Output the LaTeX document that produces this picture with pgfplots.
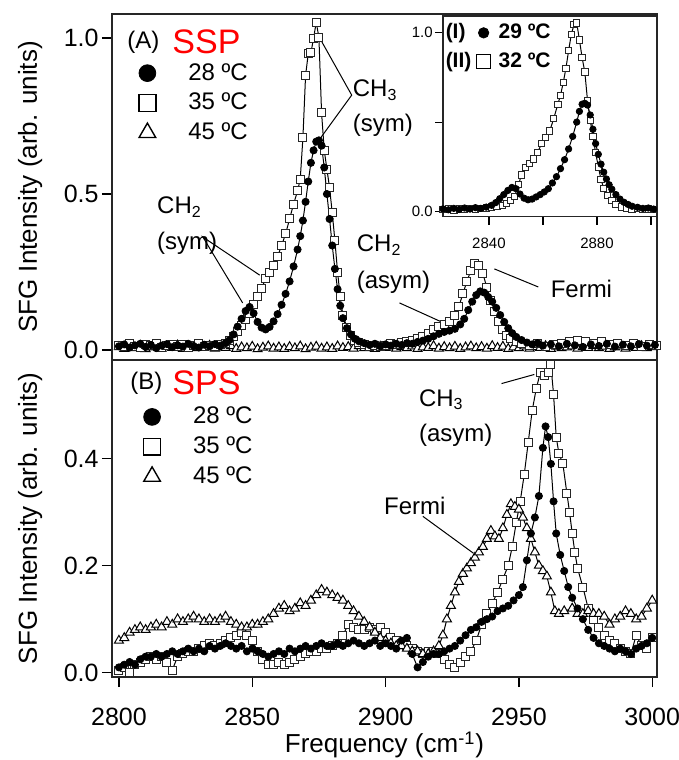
\documentclass[border=0pt]{standalone}
\usepackage{fontspec}
\setmainfont{Liberation Sans}
\usepackage{pgfplots}
\usepackage{pgfplotstable}
\pgfplotsset{compat=1.18}

% ---------- panel A (SSP) ----------
\pgfplotstableread[row sep=\\]{x y\\
2800 0.010\\ 2802 0.004\\ 2804 0.012\\ 2806 0.006\\ 2808 0.014\\ 2810 0.003\\ 2812 0.009\\ 2814 0.013\\ 2816 0.005\\ 2818 0.011\\
2820 0.007\\ 2822 0.015\\ 2824 0.004\\ 2826 0.010\\ 2828 0.006\\ 2830 0.012\\ 2832 0.008\\ 2834 0.014\\ 2836 0.005\\ 2838 0.010\\
2840 0.007\\ 2842 0.013\\ 2844 0.004\\ 2846 0.009\\ 2848 0.006\\ 2850 0.011\\ 2852 0.003\\ 2854 0.008\\ 2856 0.012\\ 2858 0.005\\
2860 0.009\\ 2862 0.004\\ 2864 0.010\\ 2866 0.006\\ 2868 0.012\\ 2870 0.003\\ 2872 0.008\\ 2874 0.011\\ 2876 0.005\\ 2878 0.009\\
2880 0.004\\ 2882 0.012\\ 2884 0.007\\ 2886 0.010\\ 2888 0.005\\ 2890 0.013\\ 2892 0.006\\ 2894 0.009\\ 2896 0.004\\ 2898 0.011\\
2900 0.007\\ 2902 0.014\\ 2904 0.005\\ 2906 0.010\\ 2908 0.006\\ 2910 0.012\\ 2912 0.004\\ 2914 0.009\\ 2916 0.007\\ 2918 0.013\\
2920 0.005\\ 2922 0.010\\ 2924 0.006\\ 2926 0.011\\ 2928 0.004\\ 2930 0.009\\ 2932 0.012\\ 2934 0.006\\ 2936 0.010\\ 2938 0.005\\
2940 0.013\\ 2942 0.007\\ 2944 0.011\\ 2946 0.004\\ 2948 0.009\\ 2950 0.006\\ 2952 0.012\\ 2954 0.005\\ 2956 0.010\\ 2958 0.007\\
2960 0.013\\ 2962 0.004\\ 2964 0.011\\ 2966 0.006\\ 2968 0.009\\ 2970 0.012\\ 2972 0.005\\ 2974 0.010\\ 2976 0.007\\ 2978 0.014\\
2980 0.006\\ 2982 0.011\\ 2984 0.004\\ 2986 0.009\\ 2988 0.012\\ 2990 0.005\\ 2992 0.010\\ 2994 0.007\\ 2996 0.013\\ 2998 0.006\\ 3000 0.010\\
}\aT

\pgfplotstableread[row sep=\\]{x y\\
2800 0.012\\ 2802 0.018\\ 2804 0.008\\ 2806 0.015\\ 2808 0.020\\ 2810 0.010\\ 2812 0.016\\ 2814 0.006\\ 2816 0.014\\ 2818 0.019\\
2820 0.009\\ 2822 0.015\\ 2824 0.011\\ 2826 0.020\\ 2828 0.013\\ 2830 0.008\\ 2832 0.017\\ 2834 0.012\\ 2836 0.019\\ 2838 0.014\\
2840 0.022\\ 2841.5 0.032\\ 2843 0.050\\ 2844.5 0.075\\ 2846 0.100\\ 2847.5 0.125\\ 2849 0.138\\ 2850.5 0.118\\ 2852 0.090\\
2853.5 0.072\\ 2855 0.066\\ 2856.5 0.074\\ 2858 0.092\\ 2859.5 0.115\\ 2861 0.145\\ 2862.5 0.180\\ 2864 0.220\\ 2865.5 0.268\\
2867 0.322\\ 2868 0.365\\ 2869 0.415\\ 2870 0.475\\ 2871 0.540\\ 2872 0.600\\ 2873 0.640\\ 2874 0.668\\ 2875 0.672\\ 2876 0.655\\
2877 0.585\\ 2878 0.500\\ 2879 0.420\\ 2880 0.335\\ 2881 0.260\\ 2882 0.195\\ 2883 0.142\\ 2884 0.102\\ 2885.5 0.070\\ 2887 0.050\\
2888.5 0.036\\ 2890 0.028\\ 2892 0.022\\ 2894 0.016\\ 2896 0.020\\ 2898 0.012\\ 2900 0.018\\ 2902 0.014\\ 2904 0.020\\ 2906 0.016\\
2908 0.022\\ 2910 0.020\\ 2912 0.026\\ 2914 0.030\\ 2916 0.036\\ 2918 0.044\\ 2920 0.052\\ 2922 0.058\\ 2924 0.062\\ 2926 0.068\\
2928 0.082\\ 2929.5 0.100\\ 2931 0.128\\ 2932.5 0.155\\ 2934 0.176\\ 2935.5 0.188\\ 2937 0.184\\ 2938.5 0.170\\ 2940 0.155\\
2941.5 0.135\\ 2943 0.112\\ 2944.5 0.090\\ 2946 0.070\\ 2947.5 0.054\\ 2949 0.042\\ 2951 0.032\\ 2953 0.024\\ 2955 0.018\\
2957 0.022\\ 2959 0.014\\ 2962 0.018\\ 2965 0.012\\ 2968 0.020\\ 2971 0.015\\ 2974 0.010\\ 2977 0.018\\ 2980 0.013\\ 2983 0.020\\
2986 0.011\\ 2989 0.017\\ 2992 0.012\\ 2995 0.019\\ 2998 0.014\\ 3001 0.016\\
}\aC

\pgfplotstableread[row sep=\\]{x y\\
2800 0.016\\ 2802 0.010\\ 2804 0.020\\ 2806 0.012\\ 2808 0.008\\ 2810 0.018\\ 2812 0.013\\ 2814 0.021\\ 2816 0.009\\ 2818 0.015\\
2820 0.019\\ 2822 0.011\\ 2824 0.017\\ 2826 0.008\\ 2828 0.014\\ 2830 0.020\\ 2832 0.012\\ 2834 0.016\\ 2836 0.010\\ 2838 0.018\\
2840 0.022\\ 2841.5 0.030\\ 2843 0.042\\ 2844.5 0.058\\ 2846 0.080\\ 2847.5 0.098\\ 2849 0.118\\ 2850.5 0.145\\ 2852 0.172\\
2853.5 0.198\\ 2855 0.228\\ 2856.5 0.250\\ 2858 0.272\\ 2859.5 0.300\\ 2861 0.335\\ 2862.5 0.372\\ 2864 0.420\\ 2865.5 0.468\\
2867 0.510\\ 2868 0.548\\ 2869 0.680\\ 2870 0.880\\ 2871 0.950\\ 2872 0.952\\ 2873 1.000\\ 2874 1.050\\ 2875 1.002\\ 2876 0.760\\
2877 0.640\\ 2878 0.580\\ 2879 0.520\\ 2880 0.440\\ 2881 0.350\\ 2882 0.250\\ 2883 0.170\\ 2884 0.112\\ 2885.5 0.072\\ 2887 0.046\\
2888.5 0.032\\ 2890 0.024\\ 2892 0.018\\ 2894 0.012\\ 2896 0.016\\ 2898 0.010\\ 2900 0.015\\ 2902 0.020\\ 2904 0.018\\ 2906 0.024\\
2908 0.026\\ 2910 0.030\\ 2912 0.036\\ 2914 0.044\\ 2916 0.054\\ 2918 0.066\\ 2920 0.076\\ 2922 0.082\\ 2924 0.090\\ 2926 0.110\\
2927.5 0.140\\ 2929 0.180\\ 2930.5 0.220\\ 2932 0.255\\ 2933.5 0.278\\ 2935 0.272\\ 2936.5 0.245\\ 2938 0.200\\ 2939.5 0.160\\
2941 0.122\\ 2942.5 0.092\\ 2944 0.066\\ 2945.5 0.048\\ 2947 0.036\\ 2949 0.026\\ 2951 0.020\\ 2954 0.014\\ 2957 0.020\\ 2960 0.012\\
2963 0.018\\ 2966 0.022\\ 2969 0.026\\ 2972 0.030\\ 2975 0.028\\ 2978 0.022\\ 2981 0.026\\ 2984 0.018\\ 2987 0.022\\ 2990 0.014\\
2993 0.020\\ 2996 0.012\\ 2999 0.018\\ 3001.5 0.014\\
}\aS

% ---------- panel B (SPS) ----------
\pgfplotstableread[row sep=\\]{x y\\
2800 0.010\\ 2802 0.015\\ 2804 0.020\\ 2806 0.015\\ 2808 0.025\\ 2810 0.030\\ 2812 0.030\\ 2814 0.035\\ 2816 0.030\\ 2818 0.035\\
2820 0.040\\ 2822 0.035\\ 2824 0.040\\ 2826 0.045\\ 2828 0.040\\ 2830 0.045\\ 2832 0.040\\ 2834 0.050\\ 2836 0.045\\ 2838 0.050\\
2840 0.055\\ 2842 0.050\\ 2844 0.045\\ 2846 0.050\\ 2848 0.040\\ 2850 0.045\\ 2852 0.040\\ 2854 0.035\\ 2856 0.030\\ 2858 0.035\\
2860 0.040\\ 2862 0.035\\ 2864 0.045\\ 2866 0.040\\ 2868 0.045\\ 2870 0.050\\ 2872 0.045\\ 2874 0.050\\ 2876 0.055\\ 2878 0.050\\
2880 0.050\\ 2882 0.055\\ 2884 0.050\\ 2886 0.055\\ 2888 0.060\\ 2890 0.055\\ 2892 0.050\\ 2894 0.055\\ 2896 0.060\\ 2898 0.050\\
2900 0.055\\ 2902 0.050\\ 2904 0.045\\ 2906 0.060\\ 2908 0.065\\ 2910 0.035\\ 2912 0.010\\ 2914 0.020\\ 2916 0.030\\ 2918 0.035\\
2920 0.035\\ 2922 0.040\\ 2924 0.045\\ 2926 0.050\\ 2928 0.060\\ 2930 0.070\\ 2932 0.080\\ 2934 0.085\\ 2936 0.095\\ 2938 0.100\\
2940 0.105\\ 2942 0.115\\ 2944 0.120\\ 2946 0.125\\ 2948 0.135\\ 2950 0.145\\ 2951.5 0.160\\ 2953 0.210\\ 2954.5 0.260\\
2956 0.290\\ 2957.5 0.330\\ 2959 0.420\\ 2960 0.460\\ 2961 0.440\\ 2962 0.390\\ 2963 0.320\\ 2964 0.260\\ 2965.5 0.220\\
2967 0.190\\ 2968.5 0.160\\ 2970 0.140\\ 2972 0.120\\ 2974 0.100\\ 2976 0.080\\ 2978 0.065\\ 2980 0.055\\ 2982 0.050\\
2984 0.045\\ 2986 0.040\\ 2988 0.045\\ 2990 0.040\\ 2992 0.035\\ 2994 0.045\\ 2996 0.050\\ 2998 0.055\\ 3000 0.065\\
}\bC

\pgfplotstableread[row sep=\\]{x y\\
2800 0.005\\ 2802 0.010\\ 2804 0.000\\ 2806 0.015\\ 2808 0.020\\ 2810 0.025\\ 2812 0.030\\ 2814 0.025\\ 2816 0.030\\ 2818 0.020\\
2820 0.005\\ 2822 0.030\\ 2824 0.035\\ 2826 0.040\\ 2828 0.040\\ 2830 0.045\\ 2832 0.050\\ 2834 0.055\\ 2836 0.050\\ 2838 0.055\\
2840 0.060\\ 2842 0.065\\ 2844 0.070\\ 2846 0.075\\ 2848 0.070\\ 2850 0.060\\ 2852 0.040\\ 2854 0.025\\ 2856 0.015\\ 2858 0.015\\
2860 0.020\\ 2862 0.015\\ 2864 0.020\\ 2866 0.025\\ 2868 0.030\\ 2870 0.035\\ 2872 0.040\\ 2874 0.040\\ 2876 0.045\\ 2878 0.045\\
2880 0.050\\ 2882 0.055\\ 2884 0.070\\ 2886 0.090\\ 2888 0.085\\ 2890 0.080\\ 2892 0.080\\ 2894 0.085\\ 2896 0.080\\ 2898 0.085\\
2900 0.075\\ 2902 0.065\\ 2904 0.060\\ 2906 0.055\\ 2908 0.050\\ 2910 0.045\\ 2912 0.040\\ 2914 0.035\\ 2916 0.040\\ 2918 0.040\\
2920 0.035\\ 2922 0.025\\ 2924 0.015\\ 2926 0.010\\ 2928 0.020\\ 2930 0.030\\ 2932 0.040\\ 2934 0.060\\ 2936 0.090\\ 2938 0.110\\
2940 0.130\\ 2942 0.150\\ 2944 0.175\\ 2946 0.200\\ 2947.5 0.235\\ 2949 0.280\\ 2950.5 0.320\\ 2952 0.370\\ 2953.5 0.430\\
2955 0.490\\ 2956.5 0.530\\ 2958 0.560\\ 2959.5 0.555\\ 2961 0.560\\ 2962 0.575\\ 2963 0.520\\ 2964 0.440\\ 2965 0.410\\
2966.5 0.390\\ 2968 0.335\\ 2969 0.300\\ 2970 0.260\\ 2971 0.225\\ 2972 0.195\\ 2974 0.160\\ 2976 0.120\\ 2978 0.100\\
2980 0.085\\ 2982 0.070\\ 2984 0.060\\ 2986 0.055\\ 2988 0.045\\ 2990 0.040\\ 2992 0.035\\ 2994 0.070\\ 2996 0.050\\ 2998 0.045\\ 3000 0.065\\
}\bS

\pgfplotstableread[row sep=\\]{x y\\
2800 0.060\\ 2802 0.065\\ 2804 0.075\\ 2806 0.080\\ 2808 0.085\\ 2810 0.080\\ 2812 0.085\\ 2814 0.090\\ 2816 0.085\\ 2818 0.095\\
2820 0.090\\ 2822 0.100\\ 2824 0.095\\ 2826 0.100\\ 2828 0.105\\ 2830 0.100\\ 2832 0.095\\ 2834 0.100\\ 2836 0.095\\ 2838 0.100\\
2840 0.105\\ 2842 0.095\\ 2844 0.090\\ 2846 0.085\\ 2848 0.085\\ 2850 0.090\\ 2852 0.090\\ 2854 0.095\\ 2856 0.100\\ 2858 0.110\\
2860 0.120\\ 2862 0.125\\ 2864 0.115\\ 2866 0.120\\ 2868 0.130\\ 2870 0.125\\ 2872 0.135\\ 2874 0.145\\ 2876 0.155\\ 2878 0.150\\
2880 0.145\\ 2882 0.140\\ 2884 0.135\\ 2886 0.125\\ 2888 0.115\\ 2890 0.105\\ 2892 0.095\\ 2894 0.085\\ 2896 0.075\\ 2898 0.065\\
2900 0.060\\ 2902 0.055\\ 2904 0.050\\ 2906 0.050\\ 2908 0.045\\ 2910 0.040\\ 2912 0.040\\ 2914 0.035\\ 2916 0.035\\ 2918 0.040\\
2920 0.050\\ 2921.5 0.070\\ 2923 0.100\\ 2924.5 0.125\\ 2926 0.150\\ 2927.5 0.170\\ 2929 0.185\\ 2930.5 0.195\\ 2932 0.205\\
2933.5 0.215\\ 2935 0.225\\ 2936.5 0.235\\ 2938 0.250\\ 2939.5 0.265\\ 2941 0.255\\ 2942.5 0.250\\ 2944 0.270\\ 2945.5 0.295\\
2947 0.315\\ 2948.5 0.310\\ 2950 0.305\\ 2951.5 0.290\\ 2953 0.270\\ 2954.5 0.250\\ 2956 0.225\\ 2957.5 0.200\\ 2959 0.190\\
2960.5 0.180\\ 2962 0.150\\ 2963.5 0.115\\ 2965 0.110\\ 2967 0.115\\ 2970 0.120\\ 2972 0.110\\ 2974 0.110\\ 2976 0.115\\
2978 0.110\\ 2980 0.110\\ 2982 0.105\\ 2984 0.090\\ 2986 0.100\\ 2988 0.105\\ 2990 0.115\\ 2992 0.110\\ 2994 0.100\\ 2996 0.105\\
2998 0.120\\ 3000 0.135\\
}\bT

% ---------- inset ----------
\pgfplotstableread[row sep=\\]{x y\\
2823 0.015\\ 2825 0.010\\ 2827 0.018\\ 2829 0.012\\ 2831 0.020\\ 2833 0.014\\ 2835 0.022\\ 2837 0.018\\ 2839 0.025\\ 2841 0.035\\
2842.5 0.050\\ 2844 0.072\\ 2845.5 0.095\\ 2847 0.118\\ 2848.5 0.135\\ 2850 0.128\\ 2851.5 0.098\\ 2853 0.075\\ 2854.5 0.066\\
2856 0.070\\ 2857.5 0.082\\ 2859 0.095\\ 2860.5 0.110\\ 2862 0.128\\ 2863.5 0.160\\ 2865 0.195\\ 2866.5 0.240\\ 2868 0.290\\
2869.5 0.350\\ 2871 0.420\\ 2872.5 0.500\\ 2873.5 0.560\\ 2874.5 0.600\\ 2875.5 0.605\\ 2876.5 0.595\\ 2877.5 0.540\\
2878.5 0.460\\ 2879.5 0.380\\ 2880.5 0.320\\ 2881.5 0.265\\ 2882.5 0.220\\ 2883.5 0.182\\ 2884.5 0.150\\ 2885.5 0.125\\
2887 0.095\\ 2888.5 0.070\\ 2890 0.052\\ 2891.5 0.040\\ 2893 0.030\\ 2895 0.024\\ 2897 0.018\\ 2899 0.020\\ 2901 0.014\\
}\iC

\pgfplotstableread[row sep=\\]{x y\\
2823 0.010\\ 2825 0.016\\ 2827 0.008\\ 2829 0.014\\ 2831 0.010\\ 2833 0.018\\ 2835 0.012\\ 2837 0.016\\ 2839 0.020\\ 2841 0.026\\
2843 0.030\\ 2845 0.035\\ 2846.5 0.045\\ 2848 0.062\\ 2849.5 0.085\\ 2851 0.150\\ 2852 0.205\\ 2853.5 0.245\\ 2855 0.270\\
2856.5 0.295\\ 2858 0.330\\ 2859.5 0.380\\ 2861 0.415\\ 2862.5 0.450\\ 2864 0.520\\ 2865.5 0.600\\ 2866.5 0.650\\ 2867.5 0.720\\
2868.5 0.800\\ 2869.5 0.900\\ 2870.5 0.990\\ 2871.5 1.045\\ 2872.5 1.055\\ 2873.5 0.960\\ 2874.5 0.860\\ 2875.5 0.780\\
2876.5 0.620\\ 2877.5 0.510\\ 2878.5 0.420\\ 2879.5 0.330\\ 2880.5 0.250\\ 2881.5 0.180\\ 2882.5 0.130\\ 2884 0.090\\
2885.5 0.062\\ 2887 0.040\\ 2889 0.026\\ 2891 0.018\\ 2893 0.012\\ 2895 0.016\\ 2897 0.010\\ 2899 0.014\\ 2901 0.010\\
}\iS

\tikzset{ann/.style={anchor=west, inner sep=0pt, font=\fontsize{12}{14}\selectfont}}

\pgfplotsset{
  fitline/.style={no markers, black, line width=0.5pt, forget plot},
  circ/.style={only marks, mark=*, mark size=1.8pt, black, forget plot},
  sqr/.style={only marks, mark=square*, mark size=2pt, forget plot,
    mark options={draw=black!85, fill=white, line width=0.5pt}},
  tri/.style={only marks, mark=triangle*, mark size=2.6pt, forget plot,
    mark options={draw=black, fill=white, line width=0.5pt}},
  sfg/.style={
    scale only axis, width=272.5pt,
    xmin=2797.4, xmax=3001.8,
    axis line style={line width=0.75pt, black!85},
    tick style={line width=0.7pt, black},
    tick align=outside, tick pos=left,
    major tick length=5pt,
    ticklabel style={font=\fontsize{12.5}{14}\selectfont},
    /pgf/number format/assume math mode=true,
    /pgf/number format/1000 sep={},
    label style={font=\fontsize{13}{15}\selectfont},
    ylabel={SFG Intensity (arb. units)},
    ylabel style={at={(axis description cs:-0.150,0.5)}, anchor=center},
    yticklabel style={inner xsep=1.5pt},
    legend cell align=left,
    legend style={draw=none, fill=none, inner sep=0pt, row sep=1pt,
      font=\fontsize{12}{14}\selectfont},
    legend image code/.code={\path[draw=none, fill=none] (0pt,-0.1pt) rectangle (24.5pt,0.1pt);
      \draw[##1] plot coordinates {(6pt,0pt)};},
  },
}

\begin{document}
\begin{tikzpicture}
\path[use as bounding box] (0,0) rectangle (339.5pt,-380pt);

% ===== panel A =====
\begin{axis}[sfg, name=A, at={(56pt,-7pt)}, anchor=north west,
  height=173pt, ymin=-0.032, ymax=1.077,
  xtick=\empty, ytick={0,0.5,1},
  yticklabel style={/pgf/number format/.cd, fixed, fixed zerofill, precision=1},
  legend style={at={(0.0422,0.743)}, anchor=west}]
\addplot[fitline] table {\aT};
\addplot[fitline] table {\aS};
\addplot[fitline] table {\aC};
\addplot[tri] table {\aT};
\addplot[sqr] table {\aS};
\addplot[circ] table {\aC};
\addlegendimage{only marks, mark=*, mark size=4.2pt, black}
\addlegendentry{28 ºC}
\addlegendimage{only marks, mark=square, mark size=4.2pt, black, line width=0.7pt}
\addlegendentry{35 ºC}
\addlegendimage{only marks, mark=triangle, mark size=4.8pt, black, line width=0.7pt}
\addlegendentry{45 ºC}
\node[ann] at (axis cs:2803,0.987) {(A)};
\node[ann, text=red, font=\fontsize{17}{20}\selectfont] at (axis cs:2819.9,0.987) {SSP};
\node[ann] at (axis cs:2887.6,0.833) {CH\textsubscript{3}};
\node[ann] at (axis cs:2887.6,0.721) {(sym)};
\draw[line width=0.5pt] (axis cs:2875.3,1.0) -- (axis cs:2887.3,0.817) -- (axis cs:2874.2,0.663);
\node[ann] at (axis cs:2814.2,0.458) {CH\textsubscript{2}};
\node[ann] at (axis cs:2814.2,0.343) {(sym)};
\draw[line width=0.5pt] (axis cs:2852.8,0.240) -- (axis cs:2831.5,0.362) -- (axis cs:2846.4,0.151);
\node[ann] at (axis cs:2889.1,0.337) {CH\textsubscript{2}};
\node[ann] at (axis cs:2889.1,0.218) {(asym)};
\draw[line width=0.5pt] (axis cs:2905.2,0.151) -- (axis cs:2921,0.090);
\node[ann] at (axis cs:2961.8,0.196) {Fermi};
\draw[line width=0.5pt] (axis cs:2957.3,0.202) -- (axis cs:2940.8,0.260);
\end{axis}

% ===== inset =====
\begin{axis}[name=inset, at={(221.5pt,-8pt)}, anchor=north west,
  scale only axis, width=106.7pt, height=100.3pt,
  xmin=2823, xmax=2902, ymin=-0.028, ymax=1.093,
  axis background/.style={fill=white},
  axis line style={line width=0.75pt, black!85},
  tick style={line width=0.6pt, black},
  tick align=outside, tick pos=left, major tick length=4pt,
  xtick={2840,2860,2880,2900}, xticklabels={2840,,2880,},
  ytick={0,0.5,1}, yticklabels={0.0,,1.0},
  ticklabel style={font=\fontsize{7.5}{9}\selectfont},
  xticklabel style={yshift=-3pt},
  yticklabel style={inner xsep=1pt},
  legend cell align=left,
  legend style={draw=none, fill=none, inner sep=0pt, row sep=1.5pt,
    font=\bfseries\fontsize{10.5}{12}\selectfont,
    at={(0.151,0.8445)}, anchor=west},
  legend image code/.code={\path[draw=none, fill=none] (0pt,-0.1pt) rectangle (9.5pt,0.1pt);
    \draw[#1] plot coordinates {(4pt,0pt)};}]
\addplot[fitline] table {\iS};
\addplot[fitline] table {\iC};
\addplot[sqr, mark size=1.6pt] table {\iS};
\addplot[circ, mark size=1.6pt] table {\iC};
\addlegendimage{only marks, mark=*, mark size=2.6pt, black}
\addlegendentry{29 ºC}
\addlegendimage{only marks, mark=square, mark size=3.6pt, black, line width=0.6pt}
\addlegendentry{32 ºC}
\node[anchor=west, inner sep=0pt, font=\bfseries\fontsize{10.5}{12}\selectfont] at (rel axis cs:0.011,0.917) {(I)};
\node[anchor=west, inner sep=0pt, font=\bfseries\fontsize{10.5}{12}\selectfont] at (rel axis cs:0.011,0.772) {(II)};
\end{axis}

% ===== panel B =====
\begin{axis}[sfg, name=B, at={(56pt,-180pt)}, anchor=north west,
  height=158.5pt, ymin=-0.008, ymax=0.584,
  xtick={2800,2850,2900,2950,3000}, ytick={0,0.2,0.4},
  yticklabel style={/pgf/number format/.cd, fixed, fixed zerofill, precision=1},
  xticklabel style={yshift=-7pt},
  xlabel={Frequency (cm\textsuperscript{-1})},
  xlabel style={at={(axis description cs:0.5,-0.2145)}, anchor=center},
  legend style={at={(0.0508,0.7265)}, anchor=west}]
\addplot[fitline] table {\bS};
\addplot[fitline] table {\bT};
\addplot[fitline] table {\bC};
\addplot[sqr] table {\bS};
\addplot[tri] table {\bT};
\addplot[circ] table {\bC};
\addlegendimage{only marks, mark=*, mark size=4.2pt, black}
\addlegendentry{28 ºC}
\addlegendimage{only marks, mark=square, mark size=4.2pt, black, line width=0.7pt}
\addlegendentry{35 ºC}
\addlegendimage{only marks, mark=triangle, mark size=4.8pt, black, line width=0.7pt}
\addlegendentry{45 ºC}
\node[ann] at (axis cs:2804.1,0.541) {(B)};
\node[ann, text=red, font=\fontsize{17}{20}\selectfont] at (axis cs:2819.9,0.541) {SPS};
\node[ann] at (axis cs:2912.4,0.510) {CH\textsubscript{3}};
\node[ann] at (axis cs:2912.4,0.443) {(asym)};
\draw[line width=0.5pt] (axis cs:2943.5,0.540) -- (axis cs:2955.8,0.557);
\node[ann] at (axis cs:2899.3,0.311) {Fermi};
\draw[line width=0.5pt] (axis cs:2914,0.292) -- (axis cs:2933,0.223);
\end{axis}
\end{tikzpicture}
\end{document}
